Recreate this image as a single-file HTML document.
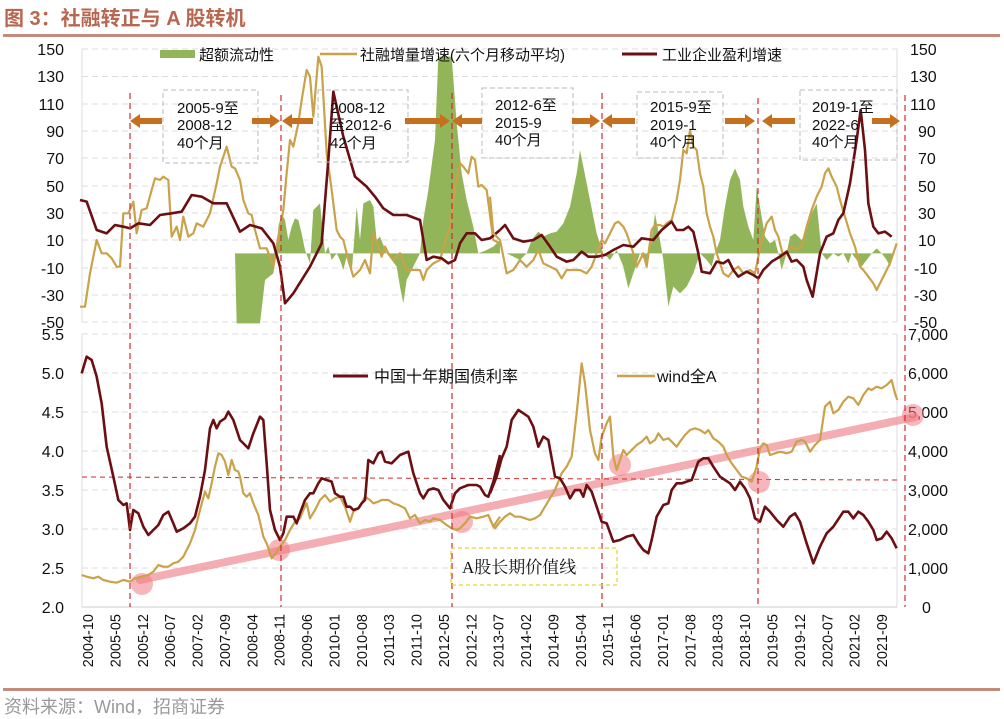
<!DOCTYPE html>
<html><head><meta charset="utf-8"><style>
html,body{margin:0;padding:0;background:#fff;width:1004px;height:719px;overflow:hidden}
svg{display:block}
text{font-family:"Liberation Sans","Noto Sans CJK SC",sans-serif}
text.serif{font-family:"Liberation Serif","Noto Serif CJK SC",serif}
</style></head><body>
<svg width="1004" height="719" viewBox="0 0 1004 719" xmlns="http://www.w3.org/2000/svg">
<text x="4" y="25" font-size="20" font-weight="bold" fill="#b8664f">图 3：社融转正与 A 股转机</text>
<rect x="3" y="34" width="997" height="3" fill="#c48a7a"/>
<rect x="3" y="688" width="997" height="3" fill="#c48a7a"/>
<text x="4" y="713" font-size="18" fill="#999">资料来源：Wind，招商证券</text>

<g stroke="#ddd" stroke-dasharray="6,4" stroke-width="1">
<line x1="82" x2="897" y1="49" y2="49"/><line x1="82" x2="897" y1="76.5" y2="76.5"/><line x1="82" x2="897" y1="104" y2="104"/><line x1="82" x2="897" y1="131" y2="131"/><line x1="82" x2="897" y1="158" y2="158"/><line x1="82" x2="897" y1="186" y2="186"/><line x1="82" x2="897" y1="213" y2="213"/><line x1="82" x2="897" y1="240" y2="240"/><line x1="82" x2="897" y1="268" y2="268"/><line x1="82" x2="897" y1="295" y2="295"/><line x1="82" x2="897" y1="322" y2="322"/>
<line x1="82" x2="897" y1="334" y2="334"/><line x1="82" x2="897" y1="373" y2="373"/><line x1="82" x2="897" y1="412" y2="412"/><line x1="82" x2="897" y1="451" y2="451"/><line x1="82" x2="897" y1="490" y2="490"/><line x1="82" x2="897" y1="529" y2="529"/><line x1="82" x2="897" y1="568" y2="568"/>
</g>
<g stroke="#ddd" stroke-width="1"><line x1="82" x2="82" y1="49" y2="322"/><line x1="897" x2="897" y1="49" y2="322"/><line x1="82" x2="82" y1="334" y2="607"/><line x1="897" x2="897" y1="334" y2="607"/></g>
<line x1="82" x2="897" y1="607" y2="607" stroke="#ccc"/>

<g font-size="16" fill="#111" text-anchor="end">
<text x="64" y="55">150</text><text x="64" y="82">130</text><text x="64" y="110">110</text><text x="64" y="137">90</text><text x="64" y="164">70</text><text x="64" y="192">50</text><text x="64" y="219">30</text><text x="64" y="246">10</text><text x="64" y="274">-10</text><text x="64" y="301">-30</text><text x="64" y="328">-50</text>
<text x="64" y="340">5.5</text><text x="64" y="379">5.0</text><text x="64" y="418">4.5</text><text x="64" y="457">4.0</text><text x="64" y="496">3.5</text><text x="64" y="535">3.0</text><text x="64" y="574">2.5</text><text x="64" y="613">2.0</text>
</g>
<g font-size="16" fill="#111">
<text x="910" y="55">150</text><text x="910" y="82">130</text><text x="910" y="110">110</text><text x="918" y="137">90</text><text x="918" y="164">70</text><text x="918" y="192">50</text><text x="918" y="219">30</text><text x="918" y="246">10</text><text x="914" y="274">-10</text><text x="914" y="301">-30</text><text x="914" y="328">-50</text>
<text x="908" y="340">7,000</text><text x="908" y="379">6,000</text><text x="908" y="418">5,000</text><text x="908" y="457">4,000</text><text x="908" y="496">3,000</text><text x="908" y="535">2,000</text><text x="908" y="574">1,000</text><text x="922" y="613">0</text>
</g>
<g font-size="14.5" fill="#111" text-anchor="end">
<text transform="translate(93,614) rotate(-90)">2004-10</text>
<text transform="translate(120.4,614) rotate(-90)">2005-05</text>
<text transform="translate(147.8,614) rotate(-90)">2005-12</text>
<text transform="translate(175.1,614) rotate(-90)">2006-07</text>
<text transform="translate(202.5,614) rotate(-90)">2007-02</text>
<text transform="translate(229.9,614) rotate(-90)">2007-09</text>
<text transform="translate(257.3,614) rotate(-90)">2008-04</text>
<text transform="translate(284.7,614) rotate(-90)">2008-11</text>
<text transform="translate(312,614) rotate(-90)">2009-06</text>
<text transform="translate(339.4,614) rotate(-90)">2010-01</text>
<text transform="translate(366.8,614) rotate(-90)">2010-08</text>
<text transform="translate(394.2,614) rotate(-90)">2011-03</text>
<text transform="translate(421.6,614) rotate(-90)">2011-10</text>
<text transform="translate(448.9,614) rotate(-90)">2012-05</text>
<text transform="translate(476.3,614) rotate(-90)">2012-12</text>
<text transform="translate(503.7,614) rotate(-90)">2013-07</text>
<text transform="translate(531.1,614) rotate(-90)">2014-02</text>
<text transform="translate(558.5,614) rotate(-90)">2014-09</text>
<text transform="translate(585.8,614) rotate(-90)">2015-04</text>
<text transform="translate(613.2,614) rotate(-90)">2015-11</text>
<text transform="translate(640.6,614) rotate(-90)">2016-06</text>
<text transform="translate(668,614) rotate(-90)">2017-01</text>
<text transform="translate(695.4,614) rotate(-90)">2017-08</text>
<text transform="translate(722.7,614) rotate(-90)">2018-03</text>
<text transform="translate(750.1,614) rotate(-90)">2018-10</text>
<text transform="translate(777.5,614) rotate(-90)">2019-05</text>
<text transform="translate(804.9,614) rotate(-90)">2019-12</text>
<text transform="translate(832.3,614) rotate(-90)">2020-07</text>
<text transform="translate(859.6,614) rotate(-90)">2021-02</text>
<text transform="translate(887,614) rotate(-90)">2021-09</text>
</g>

<g transform="translate(80,40) scale(0.33333)">
<polygon fill="#93b55a" points="465,640 470,850 540,850 555,720 580,700 590,640 595,560 605,520 615,540 625,600 635,560 645,535 655,540 665,580 675,630 690,670 700,510 720,490 735,640 745,620 755,660 770,640 780,660 790,690 800,650 815,700 830,500 840,600 850,490 870,480 880,500 890,600 900,590 920,640 935,660 950,680 960,740 970,790 980,720 1000,680 1020,640 1030,540 1045,450 1065,300 1075,50 1115,50 1130,250 1145,400 1160,480 1180,560 1195,640 1220,630 1240,620 1260,600 1260,640"/>
<polyline fill="none" stroke="#c9a24a" stroke-width="2.2" vector-effect="non-scaling-stroke" stroke-linejoin="round" points="0,800 15,800 30,700 50,600 65,640 80,640 95,655 110,680 120,680 130,520 145,520 160,485 170,580 185,510 200,505 215,450 225,415 240,420 250,410 265,420 275,590 290,560 300,600 310,530 325,590 340,580 350,550 370,560 390,520 410,430 420,380 440,320 455,380 465,385 480,420 490,480 505,520 515,525 525,570 540,625 560,625 580,680 595,590 610,510 620,400 630,300 640,320 655,250 665,180 680,90 690,110 700,230 715,50 725,80 740,340 755,450 770,570 780,590 790,600 805,660 820,710 840,690 855,660 870,700 880,580 895,620 905,650 915,620 925,640 940,660 960,640 980,690 1000,690 1020,690 1030,720 1040,690 1060,670 1080,660 1100,590 1110,560 1120,480 1130,420 1140,370 1150,380 1165,400 1175,350 1185,360 1195,440 1205,435 1220,450 1240,600 1260,610"/>
<polyline fill="none" stroke="#6b0f12" stroke-width="2.6" vector-effect="non-scaling-stroke" stroke-linejoin="round" points="0,480 20,485 50,570 80,580 105,555 130,560 150,565 175,550 210,555 240,525 275,520 305,515 335,465 365,470 400,490 440,490 480,575 510,555 545,565 580,610 600,680 615,790 640,760 690,680 725,610 745,360 760,155 790,290 825,410 860,440 885,470 910,505 940,525 980,525 1020,540 1040,660 1060,650 1085,655 1105,670 1125,660 1140,610 1160,580 1185,580 1205,600 1230,595 1260,570"/>
</g>
<g transform="translate(490,40) scale(0.33333)">
<polygon fill="#93b55a" points="30,640 50,640 70,650 90,660 110,640 125,600 145,575 160,590 180,580 200,575 220,550 240,500 260,400 270,330 280,380 300,480 320,580 340,640 360,660 380,630 400,680 415,745 430,700 450,640 470,670 485,600 495,520 510,600 520,660 535,800 550,740 570,760 590,740 610,700 630,640 650,660 665,680 675,640 690,600 705,500 720,420 735,385 750,420 760,500 775,560 790,600 800,440 810,500 825,590 840,610 855,600 865,640 875,690 890,640 900,590 915,580 935,600 950,570 965,520 980,490 995,640 1010,660 1020,650 1030,640 1045,650 1060,640 1075,670 1085,640 1100,660 1115,680 1130,660 1145,640 1160,625 1175,640 1190,660 1200,680 1210,640"/>
<polyline fill="none" stroke="#c9a24a" stroke-width="2.2" vector-effect="non-scaling-stroke" stroke-linejoin="round" points="0,470 10,580 30,600 50,700 70,690 90,660 110,680 130,660 145,630 160,670 180,680 200,690 215,715 230,690 250,690 270,690 290,700 305,680 320,640 335,600 345,610 360,580 375,550 385,545 400,560 410,580 420,610 430,640 440,680 450,660 460,640 470,680 485,570 495,555 510,555 520,560 530,550 545,540 560,480 570,420 580,330 590,340 600,270 610,320 620,330 630,400 640,440 650,520 660,560 670,590 680,640 690,670 700,700 715,710 730,690 745,680 760,700 780,690 795,700 805,650 815,600 830,550 845,530 855,570 865,590 880,650 895,630 905,620 920,630 935,620 950,560 965,510 980,470 995,440 1005,400 1015,385 1025,410 1040,440 1050,480 1065,530 1080,580 1095,620 1110,680 1120,690 1135,710 1150,730 1160,750 1170,730 1185,700 1200,670 1210,640 1220,610"/>
<polyline fill="none" stroke="#6b0f12" stroke-width="2.6" vector-effect="non-scaling-stroke" stroke-linejoin="round" points="30,570 45,555 70,595 100,605 130,600 155,585 180,620 200,650 230,665 250,660 275,635 295,650 320,650 345,645 370,630 400,615 430,620 455,595 490,600 515,570 545,545 560,570 580,570 595,560 610,575 625,640 635,695 660,700 680,665 700,670 715,660 730,690 745,710 770,695 790,705 805,715 820,690 845,665 870,650 890,635 905,665 920,660 940,680 950,720 968,770 990,640 1010,590 1030,580 1045,540 1060,520 1080,430 1100,300 1112,210 1125,330 1135,490 1150,560 1165,580 1185,575 1205,590"/>
</g>

<line x1="140" y1="580" x2="915" y2="417" stroke="#f08a92" stroke-opacity="0.7" stroke-width="8" stroke-linecap="round"/>
<line x1="82" y1="477" x2="897" y2="480" stroke="#d42a2a" stroke-width="1" stroke-dasharray="5,4"/>
<g fill="#f07a84" fill-opacity="0.55">
<circle cx="142" cy="584" r="11"/><circle cx="279" cy="550" r="11"/><circle cx="462" cy="522" r="11"/><circle cx="620" cy="465" r="11"/><circle cx="759" cy="482" r="11"/><circle cx="913" cy="415" r="11"/>
</g>
<g transform="translate(80,330) scale(0.33333)">
<polyline fill="none" stroke="#c9a24a" stroke-width="2.2" vector-effect="non-scaling-stroke" stroke-linejoin="round" points="5,735 20,740 40,745 55,740 70,750 90,755 110,758 130,750 150,755 165,745 185,740 205,735 220,725 235,705 250,710 265,710 280,700 295,695 310,680 330,640 345,600 360,540 375,485 385,505 395,460 405,410 415,370 425,375 435,395 445,435 455,390 465,420 475,425 480,440 490,490 500,500 510,490 520,520 535,555 550,620 560,640 575,685 590,665 600,650 615,630 630,600 645,575 660,565 670,540 680,520 690,565 705,540 720,510 735,495 750,515 765,505 780,500 795,530 810,575 820,545 840,530 855,500 870,510 880,520 895,515 905,510 925,510 940,520 955,525 975,535 990,565 1005,555 1020,580 1035,570 1050,575 1060,565 1080,570 1100,585 1115,595 1130,600 1140,595 1155,580 1170,560 1190,565 1210,560 1225,555 1240,590 1260,560"/>
<polyline fill="none" stroke="#6b0f12" stroke-width="2.6" vector-effect="non-scaling-stroke" stroke-linejoin="round" points="5,130 20,80 35,90 50,140 65,220 80,350 100,440 115,510 130,525 140,520 150,600 160,540 175,550 190,590 205,615 220,600 235,585 250,555 265,545 280,580 290,605 310,595 330,580 345,560 360,500 375,420 390,295 400,270 410,295 420,275 435,265 445,245 460,270 480,330 505,355 520,310 540,260 550,270 560,400 570,540 585,600 600,630 610,610 620,560 640,560 650,580 660,550 675,510 690,490 700,490 715,460 725,445 740,450 755,455 765,490 780,500 790,500 800,530 810,530 820,540 835,535 845,520 855,510 865,390 880,400 895,370 905,365 915,395 935,400 950,385 960,375 985,365 1000,430 1020,490 1030,505 1045,480 1060,475 1075,480 1090,510 1110,535 1125,490 1140,475 1165,465 1190,465 1200,470 1215,495 1225,500 1240,455 1260,375"/>
</g>
<g transform="translate(490,330) scale(0.33333)">
<polyline fill="none" stroke="#c9a24a" stroke-width="2.2" vector-effect="non-scaling-stroke" stroke-linejoin="round" points="0,570 15,595 30,575 45,560 60,550 75,560 90,560 105,565 120,570 135,565 150,555 165,530 180,505 195,480 205,455 215,430 230,410 245,380 260,250 275,100 285,160 300,300 315,370 325,390 335,320 350,280 360,260 370,380 380,420 390,390 400,360 410,375 425,360 440,345 455,335 470,320 480,340 495,330 505,310 520,330 535,325 550,340 560,350 570,335 585,315 600,300 615,295 630,300 645,310 655,300 670,325 685,335 700,350 710,375 725,400 740,420 755,440 770,445 785,455 800,410 810,355 820,340 830,345 840,375 855,370 870,365 890,370 905,365 920,335 935,330 945,335 960,365 975,345 990,330 1005,230 1020,215 1030,250 1045,240 1060,215 1075,200 1090,205 1105,225 1120,195 1135,175 1145,180 1160,170 1175,175 1190,165 1205,150 1215,190 1222,210"/>
<polyline fill="none" stroke="#6b0f12" stroke-width="2.6" vector-effect="non-scaling-stroke" stroke-linejoin="round" points="0,490 20,440 35,385 50,350 65,270 85,240 100,250 115,260 130,290 145,350 160,320 175,330 195,440 210,445 225,470 240,505 255,480 270,480 280,500 290,465 305,485 320,530 335,575 350,580 370,635 390,630 410,620 430,615 445,640 460,660 475,670 485,630 500,560 520,525 535,520 545,480 560,460 575,460 590,455 605,450 625,395 640,385 655,385 670,410 690,440 705,450 720,460 735,480 750,455 765,475 780,505 795,565 810,575 825,530 840,545 860,570 880,590 900,560 915,550 930,575 950,640 970,700 990,650 1010,610 1030,590 1050,560 1060,545 1075,545 1090,565 1105,545 1120,555 1135,575 1150,600 1160,630 1175,625 1190,605 1205,625 1220,655"/>
</g>

<g stroke="#d42a2a" stroke-width="1.2" stroke-dasharray="6,4">
<line x1="130" x2="130" y1="93" y2="607"/><line x1="281" x2="281" y1="95" y2="607"/><line x1="452" x2="452" y1="93" y2="607"/><line x1="602" x2="602" y1="93" y2="607"/><line x1="758" x2="758" y1="98" y2="607"/><line x1="905" x2="905" y1="95" y2="607"/>
</g>

<g fill="none" stroke="#bbb" stroke-dasharray="5,3" stroke-width="1">
<rect x="163" y="90" width="95" height="73"/><rect x="318" y="90" width="90" height="72"/><rect x="482" y="88" width="91" height="70"/><rect x="637" y="92" width="86" height="66"/><rect x="800" y="90" width="97" height="70"/>
</g>
<g font-size="15" fill="#111">
<text x="177" y="113">2005-9至</text><text x="177" y="130">2008-12</text><text x="177" y="148">40个月</text>
<text x="330" y="113">2008-12</text><text x="330" y="130">至2012-6</text><text x="330" y="148">42个月</text>
<text x="495" y="110">2012-6至</text><text x="495" y="128">2015-9</text><text x="495" y="145">40个月</text>
<text x="650" y="112">2015-9至</text><text x="650" y="130">2019-1</text><text x="650" y="147">40个月</text>
<text x="812" y="112">2019-1至</text><text x="812" y="130">2022-6</text><text x="812" y="147">40个月</text>
</g>
<g fill="#c5701e">
<rect x="138" y="118" width="24" height="6"/><polygon points="130,121 140,114 140,128"/>
<rect x="252" y="118" width="20" height="6"/><polygon points="280,121 270,114 270,128"/>
<rect x="290" y="118" width="23" height="6"/><polygon points="282,121 292,114 292,128"/>
<rect x="405" y="118" width="37" height="6"/><polygon points="450,121 440,114 440,128"/>
<rect x="460" y="118" width="22" height="6"/><polygon points="452,121 462,114 462,128"/>
<rect x="572" y="118" width="20" height="6"/><polygon points="600,121 590,114 590,128"/>
<rect x="610" y="118" width="25" height="6"/><polygon points="602,121 612,114 612,128"/>
<rect x="725" y="118" width="22" height="6"/><polygon points="755,121 745,114 745,128"/>
<rect x="770" y="118" width="25" height="6"/><polygon points="762,121 772,114 772,128"/>
<rect x="872" y="118" width="20" height="6"/><polygon points="900,121 890,114 890,128"/>
</g>

<rect x="160" y="50" width="35" height="8" fill="#93b55a"/>
<text x="199" y="60" font-size="15" fill="#111">超额流动性</text>
<line x1="320" x2="357" y1="54" y2="54" stroke="#c9a24a" stroke-width="2.5"/>
<text x="360" y="60" font-size="15" fill="#111">社融增量增速(六个月移动平均)</text>
<line x1="622" x2="657" y1="54" y2="54" stroke="#6b0f12" stroke-width="3"/>
<text x="662" y="60" font-size="15" fill="#111">工业企业盈利增速</text>
<line x1="333" x2="368" y1="376" y2="376" stroke="#6b0f12" stroke-width="3"/>
<text x="374" y="382" font-size="16" fill="#111">中国十年期国债利率</text>
<line x1="617" x2="655" y1="376" y2="376" stroke="#c9a24a" stroke-width="2.5"/>
<text x="657" y="382" font-size="16" fill="#111">wind全A</text>
<rect x="451" y="548" width="166" height="37" fill="none" stroke="#e8d23a" stroke-dasharray="4,3" stroke-width="1.3"/>
<text class="serif" x="462" y="573" font-size="17" fill="#111">A股长期价值线</text>
</svg>
</body></html>
